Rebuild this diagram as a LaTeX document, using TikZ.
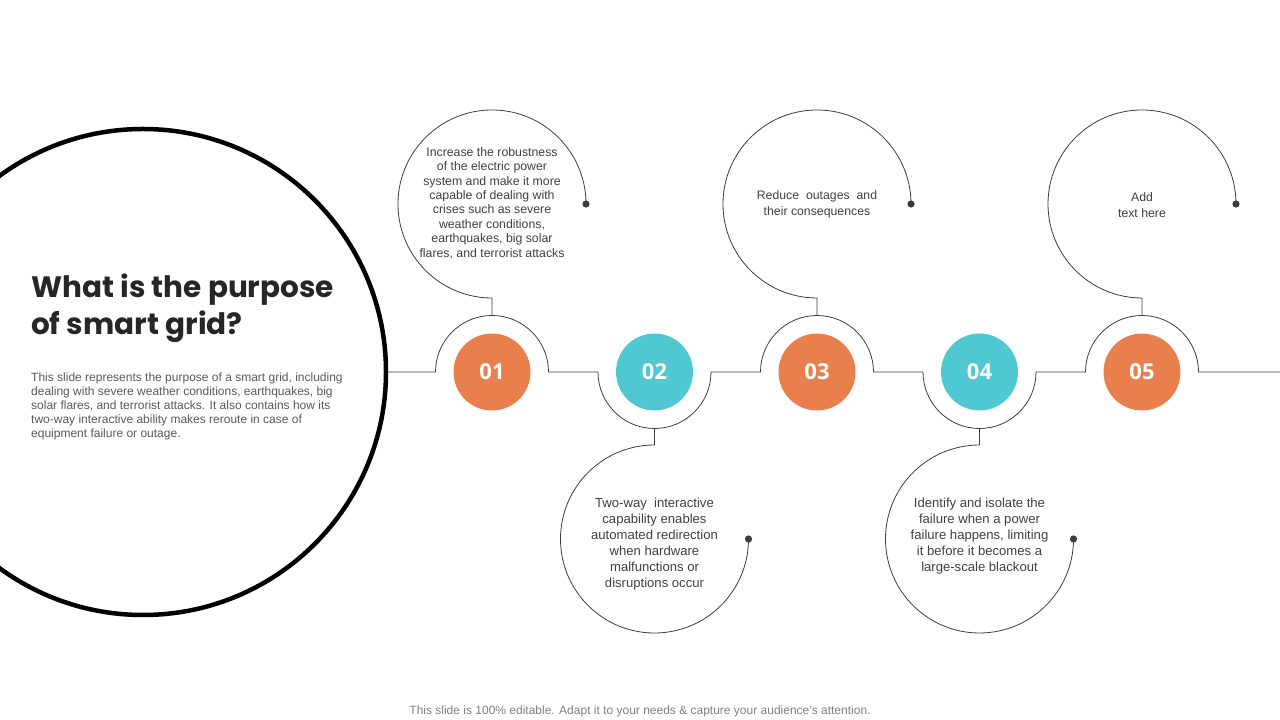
\documentclass[tikz,border=0pt]{standalone}
\usepackage{fontspec}
\setmainfont{Liberation Sans}
\newfontfamily\titlefont{Poppins}
\newfontfamily\numfont{Open Sans}
\definecolor{orng}{HTML}{E97F4D}
\definecolor{tealc}{HTML}{4FC8D1}
\definecolor{linec}{HTML}{3C3C3C}
\definecolor{txtc}{HTML}{404040}
\definecolor{descc}{HTML}{595959}
\definecolor{footc}{HTML}{7F7F7F}
\begin{document}
\begin{tikzpicture}[x=1pt,y=1pt,
  conn/.style={draw=linec, line width=0.8pt},
  numc/.style={circle, minimum size=77pt, inner sep=0pt, text=white,
    font=\numfont\bfseries\fontsize{22}{22}\selectfont},
  bodytxt/.style={align=center, text=txtc, inner sep=0pt},
  dotc/.style={fill=linec}]
\useasboundingbox (0,0) rectangle (1280,720);
\clip (0,0) rectangle (1280,720);
% big circle
\node[circle, draw=black, line width=4.5pt, minimum size=486pt, inner sep=0pt] (big) at (143,348) {};
% title (base anchor = last line baseline)
\node[anchor=base west, inner sep=0pt, align=left, text=black!85,
  font=\titlefont\bfseries\fontsize{29.5}{37}\selectfont] (title) at (31,385)
  {What is the purpose\\of smart grid?};
\node[anchor=base west, inner sep=0pt, align=left, text=descc,
  font=\fontsize{12}{14.1}\selectfont] (desc) at (31,282.3)
  {This slide represents the purpose of a smart grid, including\\
   dealing with severe weather conditions, earthquakes, big\\
   solar flares, and terrorist attacks. It also contains how its\\
   two-way interactive ability makes reroute in case of\\
   equipment failure or outage.};
% number circles
\node[numc, fill=orng] (n1) at (492,348) {01};
\node[numc, fill=tealc] (n2) at (654.5,348) {02};
\node[numc, fill=orng] (n3) at (817,348) {03};
\node[numc, fill=tealc] (n4) at (979.5,348) {04};
\node[numc, fill=orng] (n5) at (1142,348) {05};
% main line with arcs
\coordinate (lend) at (1280,348);
\draw[conn] (big.east) -- (435.5,348) arc (180:0:56.5) -- (598,348) arc (180:360:56.5)
  -- (760.5,348) arc (180:0:56.5) -- (923,348) arc (180:360:56.5)
  -- (1085.5,348) arc (180:0:56.5) -- (lend);
% text circle dots
\coordinate (d1) at (586,516);
\coordinate (d2) at (748.5,181);
\coordinate (d3) at (911,516);
\coordinate (d4) at (1073.5,181);
\coordinate (d5) at (1236,516);
% upper text circles
\draw[conn] (d1) arc (0:270:94) -- (492,404.5);
\draw[conn] (d3) arc (0:270:94) -- (817,404.5);
\draw[conn] (d5) arc (0:270:94) -- (1142,404.5);
% lower text circles
\draw[conn] (654.5,291.5) -- (654.5,275) arc (90:360:94);
\draw[conn] (979.5,291.5) -- (979.5,275) arc (90:360:94);
\foreach \d in {d1,d2,d3,d4,d5} \fill[dotc] (\d) circle (3.6);
% texts
\node[bodytxt, font=\fontsize{12.3}{14.4}\selectfont] (t1) at (492,517)
  {Increase the robustness\\of the electric power\\system and make it more\\capable of dealing with\\crises such as severe\\weather conditions,\\earthquakes, big solar\\flares, and terrorist attacks};
\node[bodytxt, font=\fontsize{13.1}{16}\selectfont] (t2) at (654.5,176)
  {Two-way\ \ interactive\\capability enables\\automated redirection\\when hardware\\malfunctions or\\disruptions occur};
\node[bodytxt, font=\fontsize{12.3}{15.5}\selectfont] (t3) at (817,515.5)
  {Reduce\ \ outages\ \ and\\their consequences};
\node[bodytxt, font=\fontsize{13.1}{16}\selectfont] (t4) at (979.5,184)
  {Identify and isolate the\\failure when a power\\failure happens, limiting\\it before it becomes a\\large-scale blackout};
\node[bodytxt, font=\fontsize{12.3}{16}\selectfont] (t5) at (1142,515)
  {Add\\text here};
% footer
\node[anchor=base, inner sep=0pt, text=footc, font=\fontsize{12}{14}\selectfont] (foot) at (640,5.7)
  {This slide is 100\% editable. Adapt it to your needs \& capture your audience’s attention.};
\end{tikzpicture}
\end{document}
